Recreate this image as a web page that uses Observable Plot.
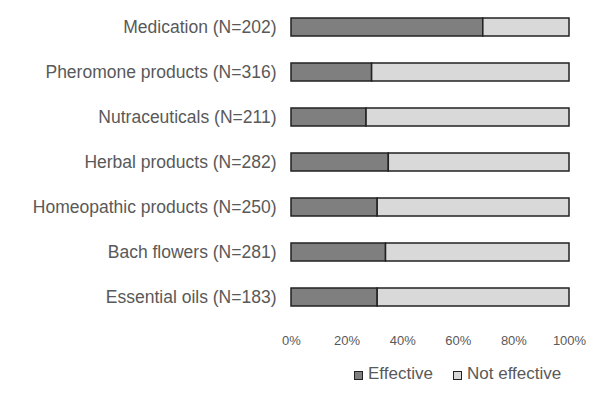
<!DOCTYPE html>
<html>
<head>
<meta charset="utf-8">
<script src="https://cdn.jsdelivr.net/npm/d3@7"></script>
<script src="https://cdn.jsdelivr.net/npm/@observablehq/plot@0.6"></script>
<style>
  body { margin: 0; background: #fff; font-family: "Liberation Sans", Arial, sans-serif; }
  #chart svg { display: block; }
  .legend { position: relative; height: 33px; color: #595959; font-size: 17px; }
  .item { position: absolute; top: 4px; display: flex; align-items: center; }
  .sw { width: 7px; height: 7px; border: 1.5px solid #222; margin-right: 5px; margin-top: 2px; }
</style>
</head>
<body>
<div id="chart"></div>
<div class="legend">
  <div class="item" style="left:354px"><span class="sw" style="background:#7f7f7f"></span>Effective</div>
  <div class="item" style="left:453px"><span class="sw" style="background:#d9d9d9"></span>Not effective</div>
</div>
<script>
const products = ["Medication", "Pheromone products", "Nutraceuticals", "Herbal products", "Homeopathic products", "Bach flowers", "Essential oils"];
const counts = [202, 316, 211, 282, 250, 281, 183];
const effective = [69, 29, 27, 35, 31, 34, 31];
const notEffective = [31, 71, 73, 65, 69, 66, 69];
const statuses = ["Effective", "Not effective"];
const xTicks = [0, 20, 40, 60, 80, 100];

const labels = products.map((p, i) => `${p} (N=${counts[i]})`);
const rows = [];
labels.forEach((l, i) => {
  rows.push({label: l, status: statuses[0], value: effective[i]});
  rows.push({label: l, status: statuses[1], value: notEffective[i]});
});

const plot = Plot.plot({
  width: 594,
  height: 360,
  marginLeft: 291,
  marginRight: 25,
  marginTop: 18,
  marginBottom: 54,
  style: {fontFamily: '"Liberation Sans", Arial, sans-serif', color: "#595959", background: "#fff"},
  x: {domain: [0, 100], ticks: xTicks, tickFormat: d => d + "%"},
  y: {domain: labels, range: [18, 306], paddingInner: 0.6, paddingOuter: 0, label: null},
  color: {domain: statuses, range: ["#7f7f7f", "#d9d9d9"]},
  marks: [
    Plot.barX(rows, {x: "value", y: "label", fill: "status", stroke: "#222", strokeWidth: 1.5, order: statuses}),
    Plot.axisX({ticks: xTicks, tickFormat: d => d + "%", tickSize: 0, tickPadding: 29, fontSize: 13, label: null, anchor: "bottom"}),
    Plot.axisY({tickSize: 0, tickPadding: 15, fontSize: 17.5, label: null})
  ]
});
document.getElementById("chart").appendChild(plot);
</script>
</body>
</html>
